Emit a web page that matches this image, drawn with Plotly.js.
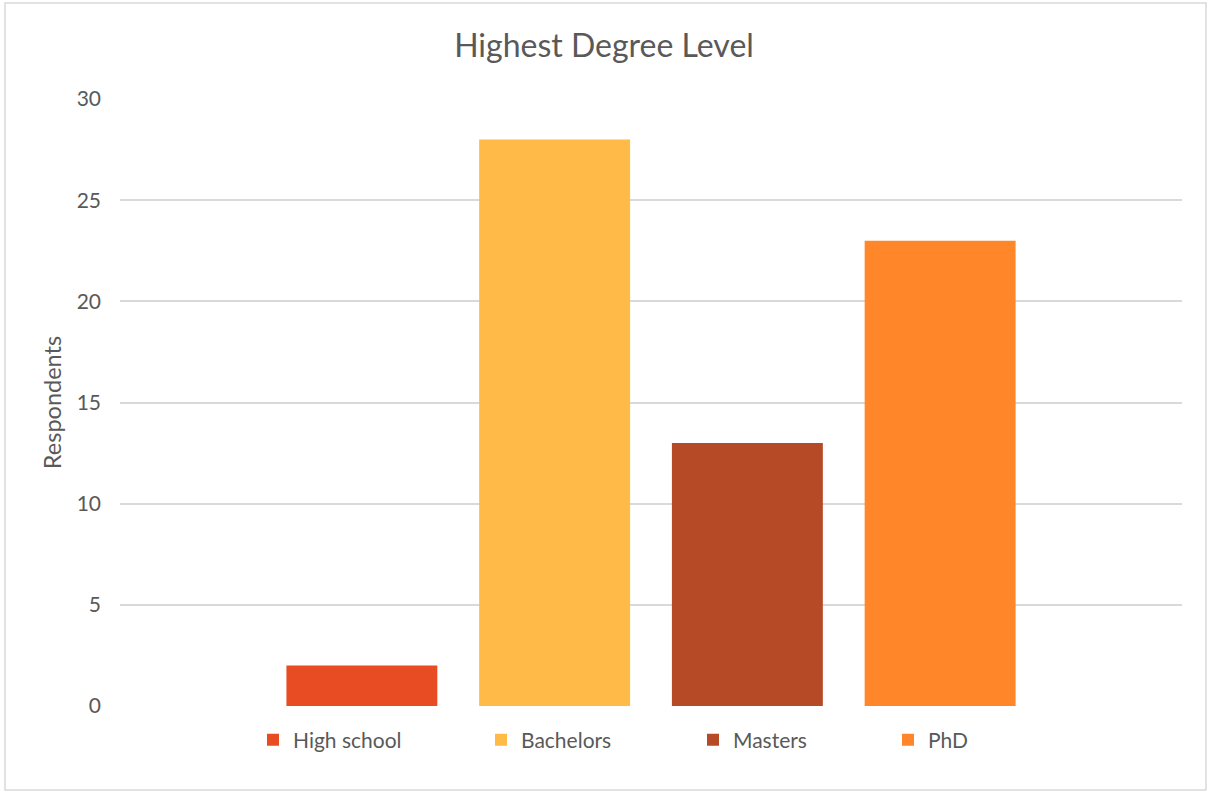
<!DOCTYPE html>
<html>
<head>
<meta charset="utf-8">
<script src="https://cdn.plot.ly/plotly-3.0.1.min.js"></script>
<style>html,body{margin:0;padding:0;background:#fff;}#chart{width:1208px;height:792px;}</style>
</head>
<body>
<div id="chart"></div>
<script>
const categories = ["High school", "Bachelors", "Masters", "PhD"];
const respondents = [2, 28, 13, 23];
const colors = ["#E84C22", "#FFBA47", "#B64926", "#FF8629"];
const yTicks = [0, 5, 10, 15, 20, 25, 30];
const groupLabel = "Highest Degree Level";

const W = 1208, H = 792;
const legendLeft = [253, 481, 693, 888];
const legendNames = ["legend", "legend2", "legend3", "legend4"];

const traces = categories.map((c, i) => ({
  type: "bar",
  name: c,
  x: [groupLabel],
  y: [respondents[i]],
  marker: {color: colors[i]},
  legend: legendNames[i],
  hoverinfo: "name+y"
}));

const font = "Lato, 'Open Sans', sans-serif";
const layout = {
  width: W, height: H,
  paper_bgcolor: "#fff", plot_bgcolor: "#fff",
  margin: {l: 120, r: 26, t: 99, b: 86},
  font: {family: font, color: "#595959", size: 21},
  title: {text: "Highest Degree Level", font: {family: font, size: 32, color: "#595959"}, x: 0.5, xref: "container", y: 1 - 46/H, yref: "container", yanchor: "middle"},
  barmode: "group",
  bargap: 0.274,
  bargroupgap: 0.217,
  xaxis: {showticklabels: false, showgrid: false, zeroline: false, showline: false, ticks: ""},
  yaxis: {
    range: [0, 30], tickvals: yTicks, ticktext: yTicks.map(String),
    showgrid: true, gridcolor: "#D9D9D9", gridwidth: 1.5,
    zeroline: false, showline: false, ticks: "",
    ticklabelstandoff: 18,
    tickfont: {size: 21, color: "#595959"},
    title: {text: "Respondents", font: {size: 23.5, color: "#595959"}, standoff: 8}
  },
  showlegend: true,
  shapes: [{
    type: "rect", xref: "paper", yref: "paper",
    x0: (5 - 120) / 1062, x1: (1206 - 120) / 1062,
    y0: (706 - 790) / 607, y1: (706 - 3) / 607,
    line: {color: "#D9D9D9", width: 1.5}, fillcolor: "rgba(0,0,0,0)", layer: "below"
  }]
};
legendNames.forEach((ln, i) => {
  layout[ln] = {
    orientation: "h", xref: "container", yref: "container",
    x: legendLeft[i] / W, xanchor: "left",
    y: 1 - 740 / H, yanchor: "middle",
    bgcolor: "rgba(0,0,0,0)", borderwidth: 0,
    font: {family: font, size: 21, color: "#595959"}
  };
});

Plotly.newPlot("chart", traces, layout, {displayModeBar: false});
</script>
</body>
</html>
